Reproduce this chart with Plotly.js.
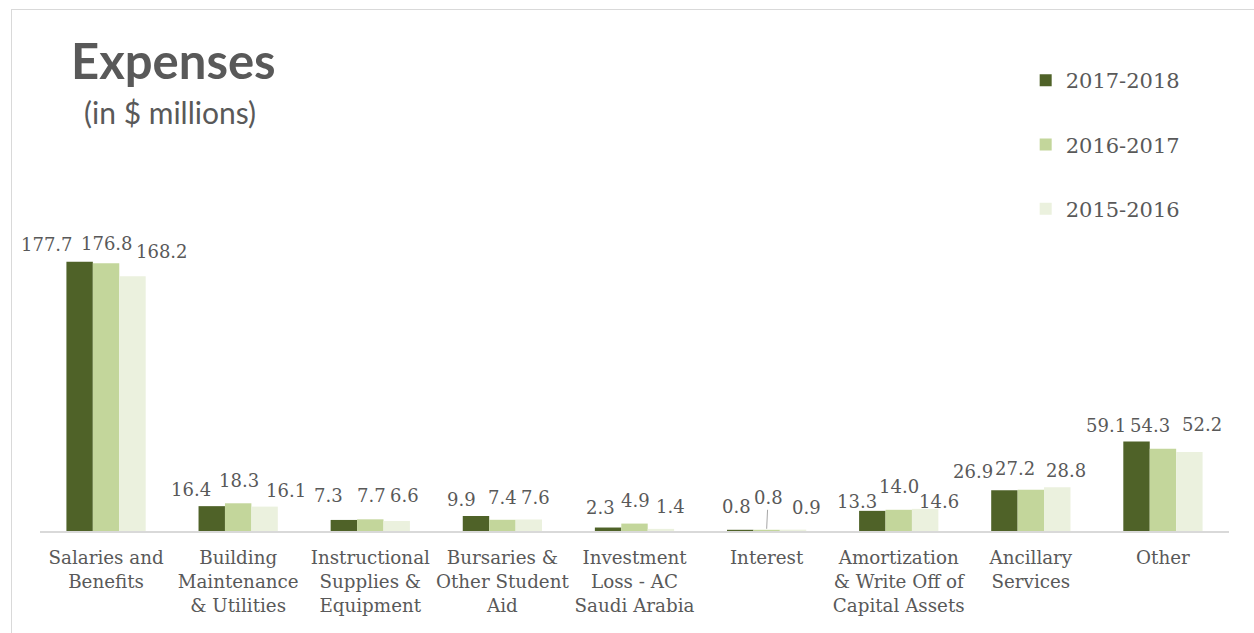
<!DOCTYPE html>
<html>
<head>
<meta charset="utf-8">
<script src="https://cdn.plot.ly/plotly-3.0.1.min.js"></script>
<style>
  html, body { margin: 0; padding: 0; background: #ffffff; }
  #wrap { position: relative; width: 1254px; height: 633px; overflow: hidden; }
  #chart { position: absolute; left: 0; top: 0; width: 1254px; height: 633px; }
  #frame { position: absolute; left: 11px; top: 9px; width: 1300px; height: 700px;
           border: 1px solid #d9d9d9; pointer-events: none; box-sizing: border-box; }
</style>
</head>
<body>
<div id="wrap">
  <div id="chart"></div>
  <div id="frame"></div>
</div>
<script>
// ---- data ----
const categories = ['Salaries and Benefits', 'Building Maintenance & Utilities',
  'Instructional Supplies & Equipment', 'Bursaries & Other Student Aid',
  'Investment Loss - AC Saudi Arabia', 'Interest',
  'Amortization & Write Off of Capital Assets', 'Ancillary Services', 'Other'];
const tickLabels = ['Salaries and<br>Benefits', 'Building<br>Maintenance<br>& Utilities',
  'Instructional<br>Supplies &<br>Equipment', 'Bursaries &<br>Other Student<br>Aid',
  'Investment<br>Loss - AC<br>Saudi Arabia', 'Interest',
  'Amortization<br>& Write Off of<br>Capital Assets', 'Ancillary<br>Services', 'Other'];
const seriesNames = ['2017-2018', '2016-2017', '2015-2016'];
const values2018 = [177.7, 16.4, 7.3, 9.9, 2.3, 0.8, 13.3, 26.9, 59.1];
const values2017 = [176.8, 18.3, 7.7, 7.4, 4.9, 0.8, 14.0, 27.2, 54.3];
const values2016 = [168.2, 16.1, 6.6, 7.6, 1.4, 0.9, 14.6, 28.8, 52.2];

// ---- styles ----
const colors = ['#4f6228', '#c3d69b', '#ebf1de'];
const textColor = '#595959';
const serif = 'DejaVu Serif, serif';
const labelSize = 18;
// data label nudges (px): horizontal from group centre, vertical up from bar top
const labelDx = [
  [-59.5, -47.5, -41.5, -41, -34.5, -30, -41.5, -58, -56.5],
  [0.5, 0.5, 1, 0, 0.5, -1.5, 0.5, -16, -12.5],
  [55.5, 47.5, 34, 33, 35.5, 39.5, 40.5, 35, 39.5]
];
const labelDy = [
  [16, 16, 23, 16, 19.5, 22, 8, 18, 15],
  [19, 22, 23, 21, 21.6, 31, 22, 20, 22.7],
  [24, 15.6, 25, 21, 21, 21.6, 6, 16, 26]
];
const leader = { series: 1, cat: 5 };

const allSeries = [values2018, values2017, values2016];

const traces = allSeries.map((vals, i) => ({
  type: 'bar',
  name: seriesNames[i],
  x: categories,
  y: vals,
  marker: { color: colors[i], line: { width: 0 } },
  legendgroup: 'g' + i,
  hoverinfo: 'skip'
}));

const annotations = [];
allSeries.forEach((vals, i) => {
  vals.forEach((v, j) => {
    const isLeader = (i === leader.series && j === leader.cat);
    if (isLeader) {
      annotations.push({
        x: categories[j], y: v, xref: 'x', yref: 'y',
        text: v.toFixed(1), showarrow: true, arrowhead: 0, arrowwidth: 1,
        arrowcolor: '#a6a6a6', ax: labelDx[i][j] + 3, ay: -labelDy[i][j] - 1,
        standoff: 1,
        font: { family: serif, size: labelSize, color: textColor }
      });
    } else {
      annotations.push({
        x: categories[j], y: v, xref: 'x', yref: 'y',
        text: v.toFixed(1), showarrow: false,
        xanchor: 'center', yanchor: 'middle',
        xshift: labelDx[i][j], yshift: labelDy[i][j] + 1,
        font: { family: serif, size: labelSize, color: textColor }
      });
    }
  });
});

// subtitle
annotations.push({
  xref: 'paper', yref: 'paper', x: 0.0355, y: 0.836,
  xanchor: 'left', yanchor: 'middle', showarrow: false,
  text: '(in $ millions)',
  font: { family: 'Lato, sans-serif', size: 30, color: textColor }
});

const layout = {
  width: 1254, height: 633,
  margin: { l: 40, r: 25, t: 30, b: 102 },
  paper_bgcolor: 'rgba(0,0,0,0)',
  plot_bgcolor: 'rgba(0,0,0,0)',
  title: {
    text: '<b>Expenses</b>',
    xref: 'container', yref: 'container',
    x: 71 / 1254, xanchor: 'left',
    y: 1 - 62 / 633, yanchor: 'middle',
    font: { family: 'Lato, sans-serif', size: 49, color: textColor }
  },
  barmode: 'group',
  bargap: 0.4,
  bargroupgap: 0,
  showlegend: true,
  legend: {
    orientation: 'v',
    x: 0.829, xanchor: 'left',
    y: 0.94, yanchor: 'top',
    font: { family: serif, size: 21, color: textColor },
    tracegroupgap: 34,
    bgcolor: 'rgba(0,0,0,0)',
    traceorder: 'grouped',
    itemclick: false, itemdoubleclick: false
  },
  xaxis: {
    type: 'category',
    categoryorder: 'array', categoryarray: categories,
    tickvals: categories, ticktext: tickLabels,
    range: [-0.5, categories.length - 0.5], autorange: false,
    tickangle: 0,
    showline: true, linecolor: '#d9d9d9', linewidth: 2,
    ticks: '', showgrid: false, zeroline: false,
    tickfont: { family: serif, size: 18.3, color: textColor },
    ticklabelstandoff: 9,
    automargin: false, fixedrange: true
  },
  yaxis: {
    range: [0, 330.7], autorange: false,
    visible: false, showgrid: false, zeroline: false,
    fixedrange: true
  },
  annotations: annotations,
  hovermode: false
};

Plotly.newPlot('chart', traces, layout, { staticPlot: true, displayModeBar: false });
</script>
</body>
</html>
